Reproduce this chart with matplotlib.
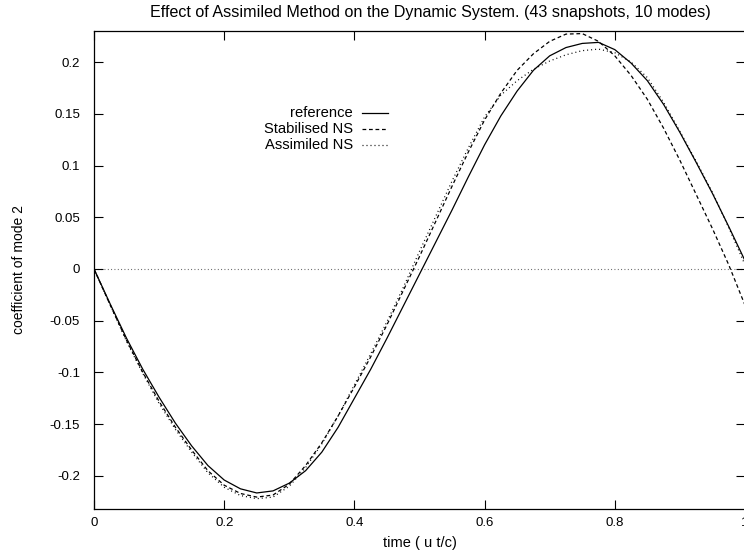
"""
Mode-2 coefficient over time: reference vs stabilised vs assimilated NS
(gnuplot-looking figure, 43 snapshots, 10 modes).
"""
import matplotlib

matplotlib.use("Agg")
import matplotlib.pyplot as plt
from matplotlib.ticker import FormatStrFormatter

plt.rcParams["font.family"] = ["Liberation Sans", "DejaVu Sans"]
plt.rcParams["axes.unicode_minus"] = False

# values, t step 0.025
t = [0.000, 0.025, 0.050, 0.075, 0.100, 0.125, 0.150, 0.175, 0.200, 0.225,
     0.250, 0.275, 0.300, 0.325, 0.350, 0.375, 0.400, 0.425, 0.450, 0.475,
     0.500, 0.525, 0.550, 0.575, 0.600, 0.625, 0.650, 0.675, 0.700, 0.725,
     0.750, 0.775, 0.800, 0.825, 0.850, 0.875, 0.900, 0.925, 0.950, 0.975,
     1.000]
reference = [0.000, -0.034, -0.067, -0.097, -0.124, -0.149, -0.171, -0.190, -0.204, -0.2125,
             -0.2165, -0.2145, -0.207, -0.195, -0.177, -0.153, -0.125, -0.097, -0.067, -0.036,
             -0.005, 0.026, 0.057, 0.089, 0.120, 0.148, 0.172, 0.192, 0.206, 0.214,
             0.218, 0.219, 0.212, 0.199, 0.182, 0.159, 0.132, 0.103, 0.073, 0.041,
             0.008]
stabilised = [0.000, -0.035, -0.069, -0.100, -0.128, -0.153, -0.175, -0.195, -0.209, -0.217,
              -0.2205, -0.2185, -0.208, -0.190, -0.168, -0.142, -0.114, -0.085, -0.054, -0.021,
              0.012, 0.046, 0.080, 0.113, 0.144, 0.170, 0.192, 0.208, 0.220, 0.227,
              0.2275, 0.220, 0.206, 0.187, 0.164, 0.136, 0.105, 0.072, 0.039, 0.004,
              -0.035]
assimiled = [0.000, -0.035, -0.070, -0.101, -0.130, -0.155, -0.177, -0.197, -0.211, -0.219,
             -0.222, -0.2205, -0.210, -0.192, -0.169, -0.142, -0.112, -0.082, -0.051, -0.018,
             0.017, 0.051, 0.085, 0.117, 0.147, 0.168, 0.182, 0.193, 0.201, 0.207,
             0.211, 0.2125, 0.209, 0.200, 0.185, 0.161, 0.133, 0.104, 0.074, 0.040,
             0.004]

series = [
    ("reference", reference, "-"),
    ("Stabilised NS", stabilised, (0, (3.0, 2.2))),
    ("Assimiled NS", assimiled, (0, (0.8, 2.4))),
]

fig = plt.figure(figsize=(7.44, 5.5), dpi=100)
ax = fig.add_axes([94 / 744, 41 / 550, 651 / 744, 478 / 550])

ax.axhline(0, color="#555555", lw=0.8, ls=(0, (0.8, 2.2)), zorder=1)

for i, (label, vals, ls) in enumerate(series):
    ax.plot(t, vals, color="black", lw=0.9, ls=ls, zorder=2)
    # gnuplot-style key: right-aligned text, sample to its right
    ky = 0.8285 - 0.0335 * i
    ax.text(0.398, ky, label, ha="right", va="center", fontsize=10.6,
            transform=ax.transAxes)
    ax.plot([0.412, 0.452], [ky, ky], color="black", lw=0.9, ls=ls,
            transform=ax.transAxes)

ax.set_xlim(0, 1)
ax.set_ylim(-0.232, 0.230)
ax.set_xticks([0, 0.2, 0.4, 0.6, 0.8, 1.0])
ax.set_yticks([-0.2, -0.15, -0.1, -0.05, 0, 0.05, 0.1, 0.15, 0.2])
ax.xaxis.set_major_formatter(FormatStrFormatter("%g"))
ax.yaxis.set_major_formatter(FormatStrFormatter("%g"))
ax.tick_params(direction="in", length=6.5, width=0.8, labelsize=9.5,
               top=True, right=True)
ax.tick_params(axis="x", pad=5.5)
ax.tick_params(axis="y", pad=10)
for s in ax.spines.values():
    s.set_linewidth(0.9)

ax.set_xlabel("time ( u t/c)", fontsize=10.5, labelpad=5)
ax.set_ylabel("coefficient of mode 2", fontsize=10, labelpad=17)
fig.text(430 / 744, 1 - 13 / 550,
         "Effect of Assimiled Method on the Dynamic System. (43 snapshots, 10 modes)",
         ha="center", va="center", fontsize=11.6)

fig.savefig("out.png", dpi=100)
